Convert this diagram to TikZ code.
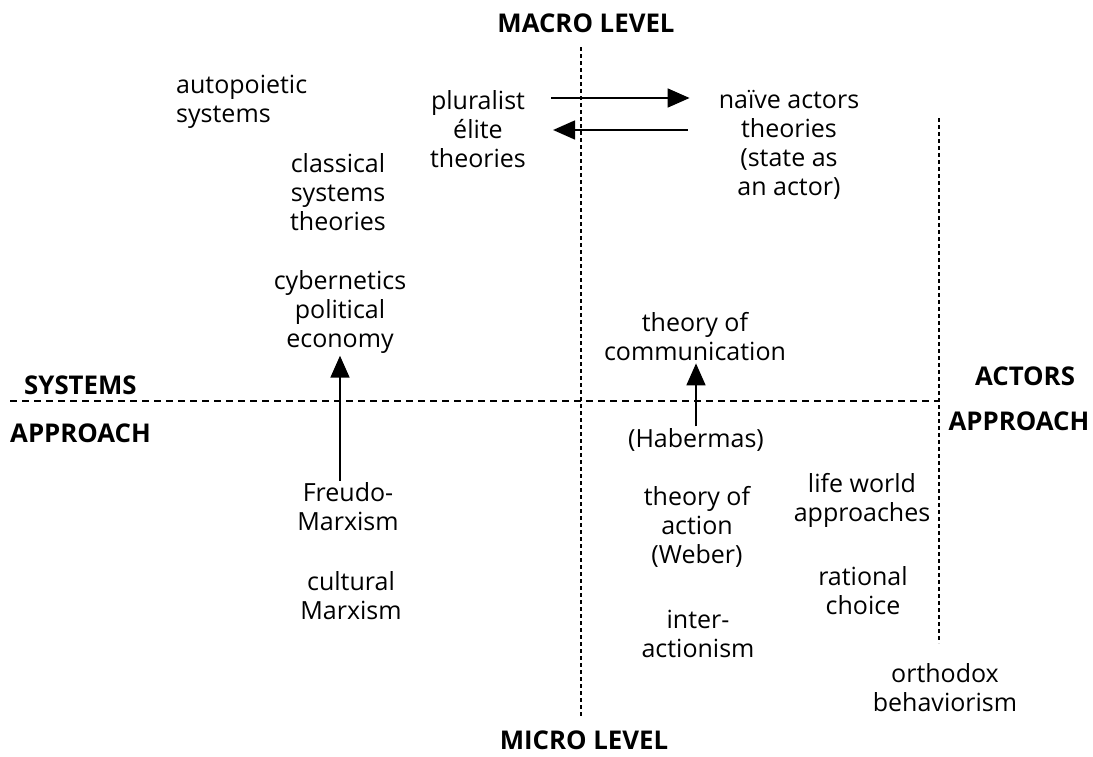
\documentclass[tikz,border=0pt]{standalone}
\usepackage{fontspec}
\setmainfont{Open Sans}
\usetikzlibrary{arrows.meta}
\begin{document}
\begin{tikzpicture}[x=1pt,y=-1pt,
  lbl/.style={align=center,inner sep=2pt,font=\fontsize{25}{29}\selectfont},
  head/.style={inner sep=0pt,font=\fontsize{25.8}{29}\selectfont\bfseries},
  arr/.style={line width=1.8pt,-{Triangle[length=22pt,width=19pt]}},
  vdash/.style={line width=1.5pt,dash pattern=on 4pt off 3pt},
  hdash/.style={line width=1.5pt,dash pattern=on 7pt off 5pt}]
\useasboundingbox (0,0) rectangle (1093,756);
% headings
\node[head] (macro) at (586,23) {MACRO LEVEL};
\node[head] (micro) at (584,740) {MICRO LEVEL};
\node[head,anchor=west] (sys) at (24,385) {SYSTEMS};
\node[head,anchor=west] (appl) at (10,433) {APPROACH};
\node[head] (act) at (1025,376) {ACTORS};
\node[head] (appr) at (1019,421) {APPROACH};
% axes
\coordinate (vtop) at (581,47);
\coordinate (vbot) at (581,717);
\coordinate (hl) at (10,401);
\coordinate (hr) at (939,401);
\coordinate (rtop) at (939,118);
\coordinate (rbot) at (939,643);
\draw[vdash] (vtop) -- (vbot);
\draw[vdash] (rtop) -- (rbot);
\draw[hdash] (hl) -- (hr);
% texts
\node[lbl,anchor=west,align=left] (auto) at (174,102) {autopoietic\\systems};
\node[lbl] (class) at (338,192) {classical\\systems\\theories};
\node[lbl] (cyber) at (340,312) {cybernetics\\political\\economy};
\node[lbl] (plur) at (478,129) {pluralist\\élite\\theories};
\node[lbl] (naive) at (789,145) {naïve actors\\theories\\(state as\\an actor)};
\node[lbl] (comm) at (695,337) {theory of\\communication};
\node[lbl] (haber) at (696,440) {(Habermas)};
\node[lbl] (freudo) at (348,507) {Freudo-\\Marxism};
\node[lbl] (cult) at (351,596) {cultural\\Marxism};
\node[lbl] (action) at (697,527) {theory of\\action\\(Weber)};
\node[lbl] (life) at (862,500) {life world\\approaches};
\node[lbl] (rat) at (863,591) {rational\\choice};
\node[lbl] (inter) at (698,634) {inter-\\actionism};
\node[lbl] (orth) at (945,688) {orthodox\\behaviorism};
% arrows
\coordinate (ra) at (0,98);
\coordinate (la) at (0,130);
\draw[arr,shorten <=23pt,shorten >=27pt] (plur.east |- ra) -- (naive.west |- ra);
\draw[arr,shorten <=29pt,shorten >=25pt] (naive.west |- la) -- (plur.east |- la);
\draw[arr] (cyber.south |- freudo.north) -- (cyber.south);
\draw[arr] (haber.north) -- (haber.north |- comm.south);
\end{tikzpicture}
\end{document}
